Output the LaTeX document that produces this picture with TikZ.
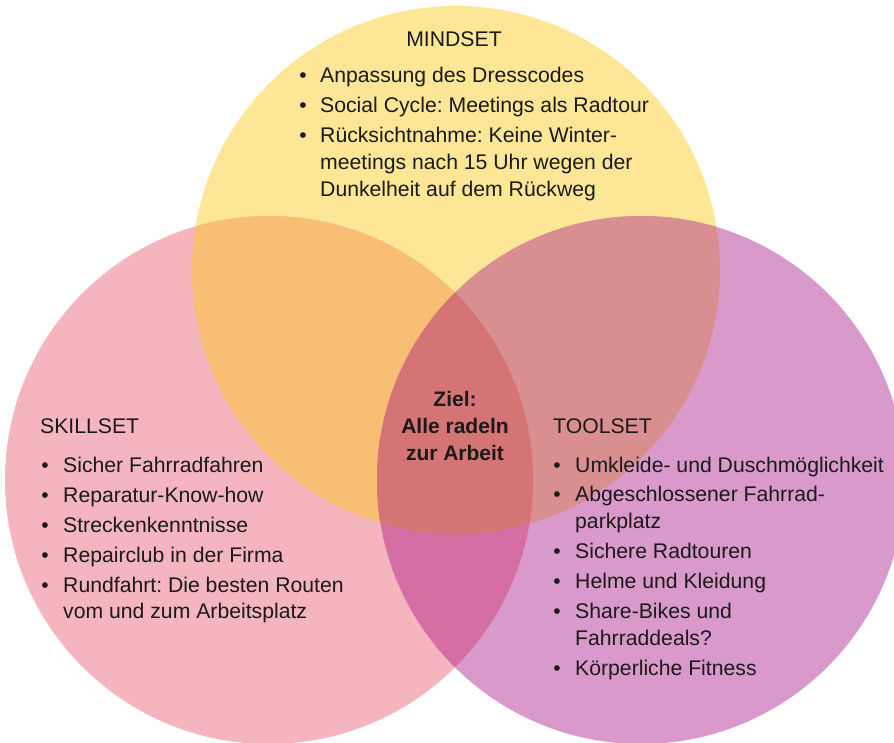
\documentclass[tikz,border=0pt]{standalone}
\usepackage{fontspec}
\setmainfont{Liberation Sans}
\frenchspacing
\definecolor{ink}{HTML}{1A1A1A}
\definecolor{cMind}{HTML}{FDE696}
\definecolor{cSkill}{HTML}{F5B5BE}
\definecolor{cTool}{HTML}{D99ACB}
\definecolor{cMS}{HTML}{F7BE74}
\definecolor{cMT}{HTML}{D98F8F}
\definecolor{cST}{HTML}{D56FA3}
\definecolor{cAll}{HTML}{D47474}
% circle paths
\def\pMind{(456,270) circle[radius=264pt]}
\def\pSkill{(269,480) circle[radius=264pt]}
\def\pTool{(641,480) circle[radius=264pt]}
\begin{document}
\begin{tikzpicture}[x=1pt,y=-1pt,
  txt/.style={font=\fontsize{21.2}{24}\selectfont, text=ink, inner sep=0pt, anchor=base west},
  goal/.style={font=\fontsize{21}{24}\selectfont\bfseries, text=ink, inner sep=0pt, anchor=base},
  dot/.style={font=\fontsize{21}{24}\selectfont, text=ink, inner sep=0pt, anchor=base}]
\useasboundingbox (0,0) rectangle (894,742);
% base circles
\fill[cMind] \pMind;
\fill[cSkill] \pSkill;
\fill[cTool] \pTool;
% pairwise overlaps
\begin{scope}\clip \pMind; \fill[cMS] \pSkill; \end{scope}
\begin{scope}\clip \pMind; \fill[cMT] \pTool; \end{scope}
\begin{scope}\clip \pSkill; \fill[cST] \pTool; \end{scope}
% common centre
\begin{scope}\clip \pMind; \clip \pSkill; \fill[cAll] \pTool; \end{scope}

% MINDSET
\node[txt, anchor=base] (mhead) at (454,46) {MINDSET};
\node[dot] (mb1) at (303,82) {•};
\node[txt] (m1) at (320,82) {Anpassung des Dresscodes};
\node[dot] (mb2) at (303,112) {•};
\node[txt] (m2) at (320,112) {Social Cycle: Meetings als Radtour};
\node[dot] (mb3) at (303,142) {•};
\node[txt] (m3a) at (320,142) {Rücksichtnahme: Keine Winter-};
\node[txt] (m3b) at (320,169) {meetings nach 15 Uhr wegen der};
\node[txt] (m3c) at (320,196) {Dunkelheit auf dem Rückweg};

% SKILLSET
\node[txt] (shead) at (40,433) {SKILLSET};
\node[dot] (sb1) at (45,472) {•};
\node[txt] (s1) at (63,472) {Sicher Fahrradfahren};
\node[dot] (sb2) at (45,502) {•};
\node[txt] (s2) at (63,502) {Reparatur-Know-how};
\node[dot] (sb3) at (45,532) {•};
\node[txt] (s3) at (63,532) {Streckenkenntnisse};
\node[dot] (sb4) at (45,562) {•};
\node[txt] (s4) at (63,562) {Repairclub in der Firma};
\node[dot] (sb5) at (45,592) {•};
\node[txt] (s5a) at (63,592) {Rundfahrt: Die besten Routen};
\node[txt] (s5b) at (63,618) {vom und zum Arbeitsplatz};

% TOOLSET
\node[txt] (thead) at (553,433) {TOOLSET};
\node[dot] (tb1) at (557,472) {•};
\node[txt] (t1) at (575,472) {Umkleide- und Duschmöglichkeit};
\node[dot] (tb2) at (557,501) {•};
\node[txt] (t2a) at (575,501) {Abgeschlossener Fahrrad-};
\node[txt] (t2b) at (575,528) {parkplatz};
\node[dot] (tb3) at (557,558) {•};
\node[txt] (t3) at (575,558) {Sichere Radtouren};
\node[dot] (tb4) at (557,588) {•};
\node[txt] (t4) at (575,588) {Helme und Kleidung};
\node[dot] (tb5) at (557,618) {•};
\node[txt] (t5a) at (575,618) {Share-Bikes und};
\node[txt] (t5b) at (575,645) {Fahrraddeals?};
\node[dot] (tb6) at (557,675) {•};
\node[txt] (t6) at (575,675) {Körperliche Fitness};

% goal in the middle
\node[goal] (g1) at (455,406) {Ziel:};
\node[goal] (g2) at (455,433) {Alle radeln};
\node[goal] (g3) at (455,460) {zur Arbeit};
\end{tikzpicture}
\end{document}
